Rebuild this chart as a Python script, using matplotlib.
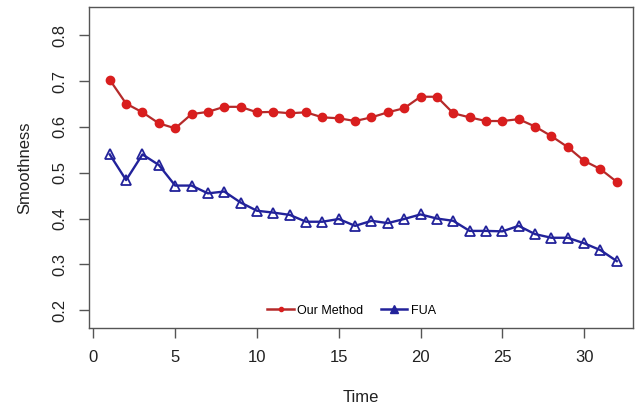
import matplotlib.pyplot as plt
from matplotlib.lines import Line2D

plt.rcParams['font.family'] = ['Liberation Sans', 'DejaVu Sans']

# 1. Data
time = list(range(1, 33))
our_method = [0.703, 0.651, 0.632, 0.608, 0.597, 0.628, 0.633, 0.644, 0.644, 0.632,
              0.633, 0.630, 0.632, 0.621, 0.619, 0.613, 0.621, 0.632, 0.641, 0.666,
              0.666, 0.630, 0.621, 0.613, 0.613, 0.617, 0.601, 0.580, 0.556, 0.526,
              0.508, 0.480]
fua = [0.540, 0.484, 0.540, 0.517, 0.472, 0.472, 0.455, 0.459, 0.435, 0.417,
       0.413, 0.408, 0.393, 0.393, 0.399, 0.384, 0.395, 0.390, 0.399, 0.409,
       0.400, 0.395, 0.373, 0.373, 0.372, 0.384, 0.366, 0.358, 0.358, 0.346,
       0.331, 0.307]
x_ticks = [0, 5, 10, 15, 20, 25, 30]
y_ticks = [0.2, 0.3, 0.4, 0.5, 0.6, 0.7, 0.8]

red_line = '#b52a2a'
red_pt = '#d91e1e'
blue = '#22229a'

# 2. Plot
fig = plt.figure(figsize=(6.37, 4.08), dpi=100)
ax = fig.add_axes([0.1402, 0.1973, 0.853, 0.7855])

ax.plot(time, our_method, color=red_line, linewidth=1.6, marker='o', markersize=6,
        markerfacecolor=red_pt, markeredgecolor=red_pt, zorder=3)
ax.plot(time, fua, color=blue, linewidth=1.7, marker='^', markersize=7.5,
        markerfacecolor='none', markeredgecolor=blue, markeredgewidth=1.3, zorder=3)

ax.set_xlim(-0.25, 32.97)
ax.set_ylim(0.162, 0.862)
ax.set_xticks(x_ticks)
ax.set_yticks(y_ticks)
ax.set_yticklabels([f'{v:.1f}' for v in y_ticks], rotation=90, va='center')

for s in ax.spines.values():
    s.set_color('#555555')
    s.set_linewidth(1.0)
ax.tick_params(direction='out', length=7.5, width=1.0, color='#555555',
               labelsize=12, labelcolor='#222222')
ax.tick_params(axis='x', pad=9)
ax.tick_params(axis='y', pad=8)

ax.set_xlabel('Time', fontsize=12, color='#222222', labelpad=18)
ax.set_ylabel('Smoothness', fontsize=12, color='#222222', labelpad=15)

handles = [
    Line2D([], [], color=red_line, linewidth=1.8, marker='o', markersize=3,
           markerfacecolor=red_pt, markeredgecolor=red_pt),
    Line2D([], [], color=blue, linewidth=1.8, marker='^', markersize=6,
           markerfacecolor=blue, markeredgecolor=blue),
]
ax.legend(handles, ['Our Method', 'FUA'], loc='center', bbox_to_anchor=(0.483, 0.052),
          ncol=2, frameon=False, fontsize=9, handlelength=2.1, handletextpad=0.3,
          columnspacing=1.4)

fig.savefig('out.png', dpi=100)
